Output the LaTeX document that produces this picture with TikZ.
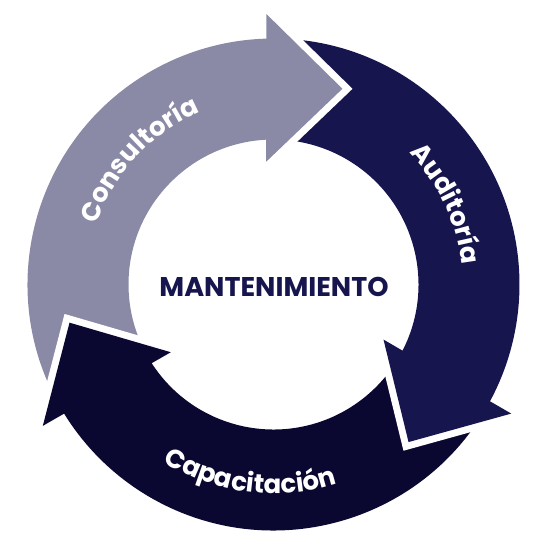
\documentclass[tikz,border=0pt]{standalone}
\usepackage{fontspec}
\newfontfamily\popfont{Poppins}
\usetikzlibrary{decorations.text}
\definecolor{consulta}{HTML}{8A8AA7}
\definecolor{audita}{HTML}{16154D}
\definecolor{capacita}{HTML}{0A0830}

\begin{document}
\begin{tikzpicture}[
    scale=0.02,
    gapline/.style={draw=white, line width=0.28cm, line join=miter},
    ringtext/.style={
      decorate,
      decoration={text along path, text align=center, text color=white,
        text={|\popfont\bfseries\fontsize{14.8}{14.8}\selectfont|#1}}
    }
  ]
    \useasboundingbox (-273.5,-265.5) rectangle (276.5,284.5);

    % arrow heads: outer barb, tip, inner barb
    \coordinate (obCo) at (91.5:270.5);
    \coordinate (tpCo) at (70.6:207.5);
    \coordinate (ibCo) at (93.4:123);
    \coordinate (obAu) at (-28.5:270.5);
    \coordinate (tpAu) at (-49.4:207.5);
    \coordinate (ibAu) at (-26.6:123);
    \coordinate (obCa) at (211.5:270.5);
    \coordinate (tpCa) at (190.6:207.5);
    \coordinate (ibCa) at (213.4:123);

    % ring bodies
    \fill[consulta] (tpCa) -- (210.2:246) arc[start angle=210.2, end angle=90.2, radius=246]
      -- (90.2:145) arc[start angle=90.2, end angle=210.2, radius=145] -- cycle;
    \fill[audita] (tpCo) -- (90.2:246) arc[start angle=90.2, end angle=-29.8, radius=246]
      -- (-29.8:145) arc[start angle=-29.8, end angle=90.2, radius=145] -- cycle;
    \fill[capacita] (tpAu) -- (-29.8:246) arc[start angle=-29.8, end angle=-149.8, radius=246]
      -- (-149.8:145) arc[start angle=-149.8, end angle=-29.8, radius=145] -- cycle;

    % white gaps in front of the heads
    \draw[gapline] (obCo) -- (tpCo) -- (ibCo);
    \draw[gapline] (obAu) -- (tpAu) -- (ibAu);
    \draw[gapline] (obCa) -- (tpCa) -- (ibCa);

    \fill[consulta] (obCo) -- (tpCo) -- (ibCo) -- cycle;
    \fill[audita] (obAu) -- (tpAu) -- (ibAu) -- cycle;
    \fill[capacita] (obCa) -- (tpCa) -- (ibCa) -- cycle;

    % labels
    \path[ringtext=Consultoría] (160:187) arc[start angle=160, end angle=114, radius=187];
    \path[ringtext=Auditoría] (45:189) arc[start angle=45, end angle=5, radius=189];
    \path[ringtext=Capacitación] (235:209) arc[start angle=235, end angle=291, radius=209];

    \node[text=audita, font=\popfont\bfseries\fontsize{15.4}{15.4}\selectfont] (centro) at (0.5,-2) {MANTENIMIENTO};
  \end{tikzpicture}
\end{document}
